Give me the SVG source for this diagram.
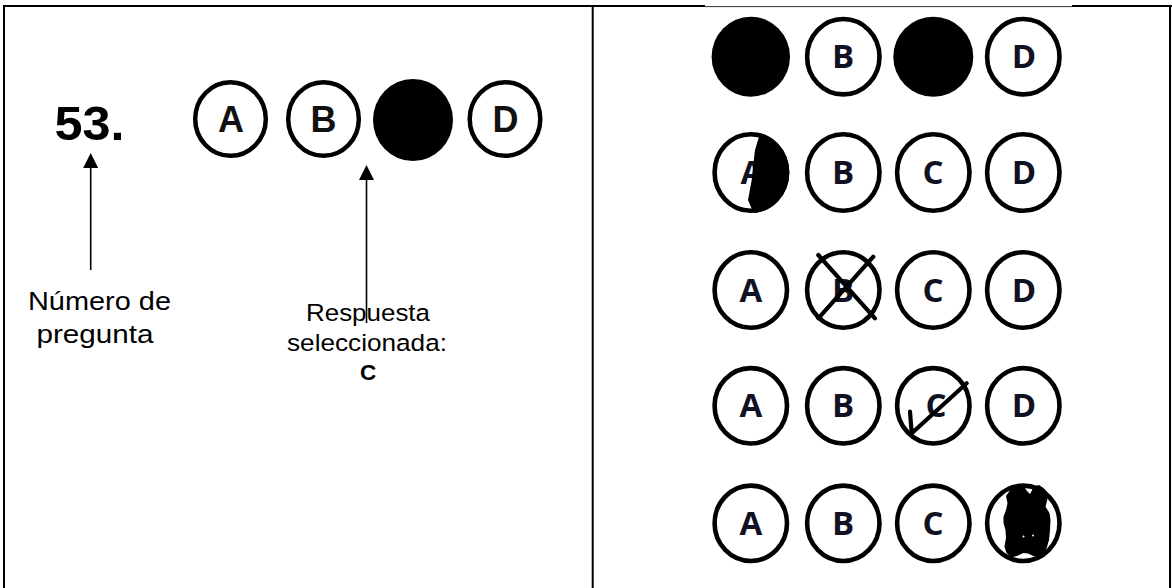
<svg xmlns="http://www.w3.org/2000/svg" width="1172" height="588" viewBox="0 0 1172 588">
  <style>
    .frame { fill: none; stroke: #000; stroke-width: 2; }
    .ring { fill: #fff; stroke: #000; stroke-width: 4.5; }
    .ringR { fill: #fff; stroke: #000; stroke-width: 4.6; }
    .dot { fill: #000; }
    .letL { font-family: "Liberation Sans", Arial, sans-serif; font-weight: 700; font-size: 36px; fill: #111; text-anchor: middle; }
    .letR { font-family: "Open Sans", "Liberation Sans", sans-serif; font-weight: 700; font-size: 33px; fill: #111122; text-anchor: middle; }
    .lbl { font-family: "Liberation Sans", Arial, sans-serif; fill: #000; text-anchor: middle; }
    .conn { stroke: #000; stroke-width: 1.6; fill: none; }
    .mark { stroke: #000; stroke-width: 4.2; stroke-linecap: round; fill: none; }
  </style>
  <defs>
    <marker id="ah" markerUnits="userSpaceOnUse" markerWidth="16" markerHeight="16" refX="12" refY="7.5" orient="auto">
      <path d="M0,0 L15,7.5 L0,15 z" fill="#000"/>
    </marker>
    <clipPath id="clipA2">
      <ellipse cx="750.8" cy="172.5" rx="38.6" ry="40.6"/>
    </clipPath>
  </defs>

  <rect width="1172" height="588" fill="#fff"/>

  <!-- table frame -->
  <g id="frame">
    <line class="frame" x1="4" y1="6" x2="1172" y2="6"/>
    <line class="frame" x1="4" y1="5" x2="4" y2="588"/>
    <line class="frame" x1="592.7" y1="5" x2="592.7" y2="588"/>
    <line class="frame" x1="1170" y1="5" x2="1170" y2="588"/>
    <rect x="705" y="4.5" width="367" height="3.5" fill="#fff"/>
    <line x1="705" y1="6.6" x2="1072" y2="6.6" stroke="#333" stroke-width="1"/>
  </g>

  <!-- left panel -->
  <g id="question-number">
    <text class="lbl" x="89.5" y="139.5" style="font-weight:700;font-size:49px" textLength="70" lengthAdjust="spacingAndGlyphs">53.</text>
  </g>

  <g id="left-bubbles">
    <ellipse class="ring" cx="230.5" cy="119" rx="35.3" ry="36.8"/>
    <text class="letL" x="231" y="131.5">A</text>
    <ellipse class="ring" cx="323.5" cy="119" rx="35.3" ry="36.8"/>
    <text class="letL" x="323.5" y="131.5">B</text>
    <ellipse class="dot" cx="413" cy="120" rx="40" ry="41"/>
    <ellipse class="ring" cx="505" cy="119" rx="35.3" ry="36.8"/>
    <text class="letL" x="505.5" y="131.5">D</text>
  </g>

  <g id="label-numero">
    <text class="lbl" x="99.5" y="310" style="font-size:26px" textLength="143" lengthAdjust="spacingAndGlyphs">Número de</text>
    <text class="lbl" x="95" y="343" style="font-size:26px" textLength="117" lengthAdjust="spacingAndGlyphs">pregunta</text>
  </g>

  <g id="label-respuesta">
    <text class="lbl" x="368" y="320.7" style="font-size:24.5px" textLength="124" lengthAdjust="spacingAndGlyphs">Respuesta</text>
    <text class="lbl" x="367" y="350.7" style="font-size:24.5px" textLength="160" lengthAdjust="spacingAndGlyphs">seleccionada:</text>
    <text class="lbl" x="368" y="380" style="font-size:22.5px;font-weight:700">C</text>
  </g>

  <g id="connectors">
    <line class="conn" x1="90.7" y1="270" x2="90.7" y2="156" marker-end="url(#ah)"/>
    <line class="conn" x1="366.5" y1="323" x2="366.5" y2="168" marker-end="url(#ah)"/>
  </g>

  <!-- right panel -->
  <g id="row1">
    <ellipse class="dot" cx="750.8" cy="56.7" rx="39.2" ry="40"/>
    <ellipse class="ringR" cx="843.3" cy="56.7" rx="36.2" ry="37.7"/>
    <text class="letR" x="843" y="68">B</text>
    <ellipse class="dot" cx="933.3" cy="56.7" rx="40" ry="40"/>
    <ellipse class="ringR" cx="1023.3" cy="56.7" rx="36.2" ry="37.7"/>
    <text class="letR" x="1024" y="68">D</text>
  </g>

  <g id="row2">
    <ellipse class="ringR" cx="750.8" cy="172.5" rx="36.2" ry="38.3"/>
    <text class="letR" x="752" y="184">A</text>
    <path clip-path="url(#clipA2)" fill="#000" d="M758,128 L759,136.7 L755,150 L753,166.7 L751.7,180 L748,200 L753,211.7 L756,216 L800,216 L800,128 Z"/>
    <ellipse class="ringR" cx="843.3" cy="172.5" rx="36.2" ry="38.3"/>
    <text class="letR" x="843" y="184">B</text>
    <ellipse class="ringR" cx="933.3" cy="172.5" rx="36.2" ry="38.3"/>
    <text class="letR" x="933" y="184">C</text>
    <ellipse class="ringR" cx="1023.3" cy="172.5" rx="36.2" ry="38.3"/>
    <text class="letR" x="1024" y="184">D</text>
  </g>

  <g id="row3">
    <ellipse class="ringR" cx="750.8" cy="290" rx="36.2" ry="37.7"/>
    <text class="letR" x="751" y="301.5">A</text>
    <ellipse class="ringR" cx="843.3" cy="290" rx="36.2" ry="37.7"/>
    <text class="letR" x="843" y="301.5">B</text>
    <line class="mark" x1="818.3" y1="255" x2="875" y2="318.3"/>
    <line class="mark" x1="873.3" y1="256.7" x2="818.3" y2="318.3"/>
    <ellipse class="ringR" cx="933.3" cy="290" rx="36.2" ry="37.7"/>
    <text class="letR" x="933" y="301.5">C</text>
    <ellipse class="ringR" cx="1023.3" cy="290" rx="36.2" ry="37.7"/>
    <text class="letR" x="1024" y="301.5">D</text>
  </g>

  <g id="row4">
    <ellipse class="ringR" cx="750.8" cy="405.8" rx="36.2" ry="37.7"/>
    <text class="letR" x="751" y="417.3">A</text>
    <ellipse class="ringR" cx="843.3" cy="405.8" rx="36.2" ry="37.7"/>
    <text class="letR" x="843" y="417.3">B</text>
    <ellipse class="ringR" cx="933.3" cy="405.8" rx="36.2" ry="37.7"/>
    <text class="letR" x="936" y="417.3">C</text>
    <polyline class="mark" points="910,411.7 911.7,433.3 966.7,383.3" style="stroke-linejoin:round"/>
    <ellipse class="ringR" cx="1023.3" cy="405.8" rx="36.2" ry="37.7"/>
    <text class="letR" x="1024" y="417.3">D</text>
  </g>

  <g id="row5">
    <ellipse class="ringR" cx="750.8" cy="523.3" rx="36.2" ry="37.7"/>
    <text class="letR" x="751" y="534.8">A</text>
    <ellipse class="ringR" cx="843.3" cy="523.3" rx="36.2" ry="37.7"/>
    <text class="letR" x="843" y="534.8">B</text>
    <ellipse class="ringR" cx="933.3" cy="523.3" rx="36.2" ry="37.7"/>
    <text class="letR" x="933" y="534.8">C</text>
    <ellipse class="ringR" cx="1023.3" cy="523.3" rx="36.2" ry="37.7"/>
    <path fill="#000" d="M1009.5,491 L1016,485 L1023.3,485.5 L1027,491 L1030,494 L1034,486.5 L1039,485 L1043.5,488 L1047,492 L1047.5,499 L1045.5,506.7 L1049.5,513 L1050.5,520 L1050,530 L1049,540 L1047,547 L1044,553.5 L1038,557 L1033.3,556 L1028,553.5 L1023.3,553 L1017,556 L1011,557.5 L1006.5,553 L1004.5,546.7 L1006,538 L1005.5,530 L1003.5,523 L1003.5,516.7 L1006,510 L1007.5,503.3 L1006,496 Z"/>
    <circle cx="1023.5" cy="536.5" r="1" fill="#fff"/>
    <circle cx="1033" cy="535.5" r="1" fill="#fff"/>
  </g>
</svg>
